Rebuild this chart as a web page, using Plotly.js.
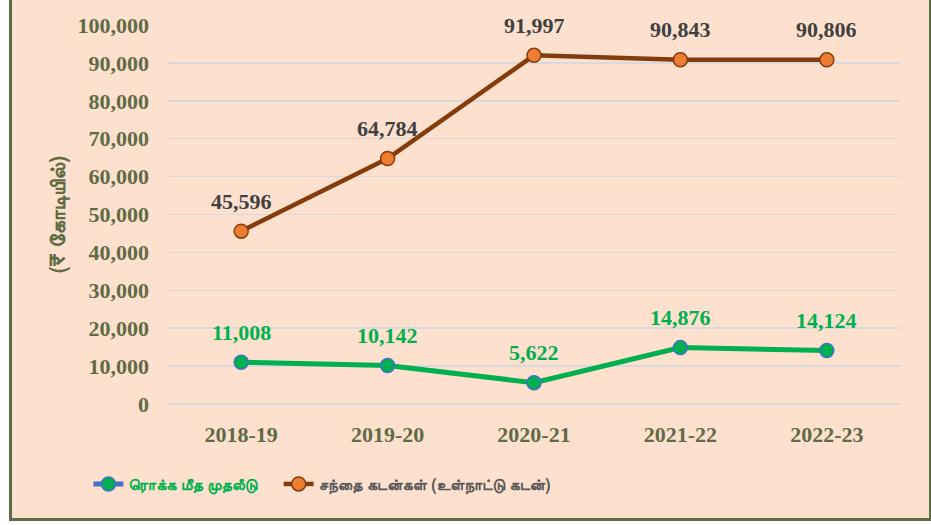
<!DOCTYPE html>
<html>
<head>
<meta charset="utf-8">
<script src="https://cdn.plot.ly/plotly-3.0.1.min.js"></script>
<style>
  html, body { margin: 0; padding: 0; background: #ffffff; width: 931px; height: 525px; overflow: hidden; }
  #bg { position: absolute; left: 9px; top: -4px; width: 917px; height: 522px; background: #FDE0CD;
        border-left: 3px solid #5F6B45; border-right: 3px solid #5F6B45; border-bottom: 3px solid #5F6B45; }
  #chart { position: absolute; left: 0; top: 0; width: 931px; height: 525px; }
</style>
</head>
<body>
<div id="bg"></div>
<div id="chart"></div>
<script>
const years = ["2018-19", "2019-20", "2020-21", "2021-22", "2022-23"];
const cashBalance = [11008, 10142, 5622, 14876, 14124];
const marketLoans = [45596, 64784, 91997, 90843, 90806];
const seriesNames = ["ரொக்க மீத முதலீடு", "சந்தை கடன்கள் (உள்நாட்டு கடன்)"];
const yTickVals = [0, 10000, 20000, 30000, 40000, 50000, 60000, 70000, 80000, 90000, 100000];
const yTitle = "(₹ கோடியில்)";

const serif = "Liberation Serif, Times New Roman, serif";
const tamil = "FreeSans";
const olive = "#5F6B45";

const fmt = v => v.toLocaleString("en-US");

const traces = [
  {
    x: years, y: cashBalance, name: seriesNames[0], type: "scatter", mode: "lines+markers",
    line: { color: "#00B050", width: 5 },
    marker: { color: "#00B050", size: 14, line: { color: "#4472C4", width: 1.5 } }
  },
  {
    x: years, y: marketLoans, name: seriesNames[1], type: "scatter", mode: "lines+markers",
    line: { color: "#843C0C", width: 4.5 },
    marker: { color: "#ED7D31", size: 14, line: { color: "#843C0C", width: 1.5 } }
  }
];

const annotations = [];
years.forEach((yr, i) => {
  annotations.push({ x: yr, y: cashBalance[i], xref: "x", yref: "y", text: fmt(cashBalance[i]),
    showarrow: false, yshift: 30, font: { family: serif, size: 22, color: "#00B050", weight: "bold" } });
  annotations.push({ x: yr, y: marketLoans[i], xref: "x", yref: "y", text: fmt(marketLoans[i]),
    showarrow: false, yshift: 30, font: { family: serif, size: 22, color: "#404040", weight: "bold" } });
});

const layout = {
  width: 931, height: 525,
  paper_bgcolor: "rgba(0,0,0,0)", plot_bgcolor: "rgba(0,0,0,0)",
  margin: { l: 168, r: 31, t: 25, b: 121 },
  showlegend: true,
  legend: {
    orientation: "h", x: 0.095, xref: "container", y: 0.078, yref: "container", yanchor: "middle",
    font: { family: tamil, size: 16, color: "#595959", weight: "bold" },
    itemwidth: 30, tracegroupgap: 0, bgcolor: "rgba(0,0,0,0)"
  },
  xaxis: {
    type: "category", range: [-0.5, 4.5], showgrid: false, zeroline: false, showline: false,
    ticks: "", ticklabelstandoff: 15,
    tickfont: { family: serif, size: 22, color: olive, weight: "bold" }
  },
  yaxis: {
    range: [0, 100000], tickvals: yTickVals, ticktext: yTickVals.map(fmt),
    showgrid: true, gridcolor: "#D9D9DD", gridwidth: 1.5,
    zeroline: true, zerolinecolor: "#D9D9DD", zerolinewidth: 1.5,
    showline: false, ticks: "", ticklabelstandoff: 18,
    tickfont: { family: serif, size: 22, color: olive, weight: "bold" },
    title: { text: yTitle, standoff: 6, font: { family: tamil, size: 21, color: olive, weight: "bold" } }
  },
  annotations: annotations
};

Plotly.newPlot("chart", traces, layout, { displayModeBar: false, staticPlot: true }).then(() => {
  const texts = document.querySelectorAll(".legendtext");
  if (texts[0]) texts[0].style.fill = "#00B050";
  const items = document.querySelectorAll(".legend .traces");
  if (items[0]) {
    items[0].querySelectorAll(".legendlines path").forEach(p => { p.style.stroke = "#4472C4"; });
  }
  if (items[1]) {
    document.querySelectorAll(".legend [clip-path]").forEach(e => e.removeAttribute("clip-path"));
    const t = items[1].getAttribute("transform") || "";
    const m = t.match(/translate\(\s*([-\d.]+)[ ,]+([-\d.]+)\s*\)/);
    if (m) items[1].setAttribute("transform", "translate(" + (parseFloat(m[1]) + 16) + "," + m[2] + ")");
  }
});
</script>
</body>
</html>
